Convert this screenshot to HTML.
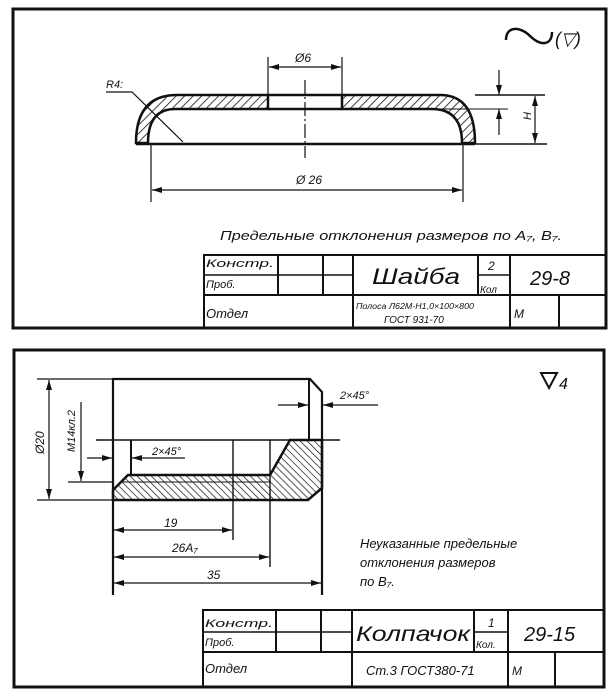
<!DOCTYPE html>
<html><head><meta charset="utf-8">
<style>
html,body{margin:0;padding:0;background:#fff;}
svg{display:block;}
text{font-family:"Liberation Sans",sans-serif;font-style:italic;fill:#111;}
</style></head>
<body>
<svg width="614" height="696" viewBox="0 0 614 696" xmlns="http://www.w3.org/2000/svg">
<defs>
<pattern id="h1" patternUnits="userSpaceOnUse" width="6" height="6" patternTransform="rotate(45)">
<line x1="0" y1="0" x2="0" y2="6" stroke="#111" stroke-width="1.6"/></pattern>
<pattern id="h2" patternUnits="userSpaceOnUse" width="5" height="5" patternTransform="rotate(-45)">
<line x1="0" y1="0" x2="0" y2="5" stroke="#111" stroke-width="1.4"/></pattern>
<marker id="a" viewBox="0 0 10 6" refX="10" refY="3" markerWidth="10" markerHeight="6" orient="auto-start-reverse" markerUnits="userSpaceOnUse">
<path d="M0,0 L10,3 L0,6 z" fill="#111"/></marker>
</defs>
<g stroke="#111" fill="none">
<!-- TOP PANEL -->
<rect x="13" y="9" width="593" height="319" stroke-width="3"/>
<!-- washer -->
<path d="M136,143 Q136,95 177,95 L268,95 L268,109 L175,109 Q148,109 148,143 Z" fill="url(#h1)" stroke-width="2.5"/>
<path d="M475,143 Q475,95 440,95 L342,95 L342,109 L432,109 Q462,109 462,143 Z" fill="url(#h1)" stroke-width="2.5"/>
<line x1="268" y1="95" x2="342" y2="95" stroke-width="2.5"/>
<line x1="268" y1="109" x2="342" y2="109" stroke-width="2.5"/>
<line x1="136" y1="144" x2="475" y2="144" stroke-width="2.5"/>
<line x1="475" y1="95" x2="545" y2="95" stroke-width="1.5"/>
<line x1="475" y1="144" x2="547" y2="144" stroke-width="1.5"/>
<line x1="432" y1="109" x2="508" y2="109" stroke-width="1"/>
<line x1="305" y1="80" x2="305" y2="158" stroke-width="1.2" stroke-dasharray="14,3,2,3"/>
<!-- Ø6 -->
<line x1="268" y1="57" x2="268" y2="95" stroke-width="1.2"/>
<line x1="342" y1="57" x2="342" y2="95" stroke-width="1.2"/>
<line x1="269" y1="67" x2="341" y2="67" stroke-width="1.2" marker-start="url(#a)" marker-end="url(#a)"/>
<!-- Ø26 -->
<line x1="151" y1="144" x2="151" y2="202" stroke-width="1.2"/>
<line x1="463" y1="144" x2="463" y2="202" stroke-width="1.2"/>
<line x1="152" y1="190" x2="462" y2="190" stroke-width="1.2" marker-start="url(#a)" marker-end="url(#a)"/>
<!-- H -->
<line x1="535" y1="96" x2="535" y2="143" stroke-width="1.2" marker-start="url(#a)" marker-end="url(#a)"/>
<!-- s -->
<line x1="499" y1="70" x2="499" y2="95" stroke-width="1.2" marker-end="url(#a)"/>
<line x1="499" y1="135" x2="499" y2="109" stroke-width="1.2" marker-end="url(#a)"/>
<!-- R4 leader -->
<polyline points="106,92 132,92 183,142" stroke-width="1.2"/>
<!-- roughness -->
<path d="M506,40 C506,26 520,26 530,36 C540,46 552,46 552,32" stroke-width="2.5"/>
<!-- title block top -->
<g stroke-width="2">
<rect x="204" y="255" width="402" height="73"/>
<line x1="204" y1="295" x2="606" y2="295"/>
<line x1="204" y1="275" x2="352" y2="275" stroke-width="1.5"/>
<line x1="278" y1="255" x2="278" y2="295"/>
<line x1="323" y1="255" x2="323" y2="295"/>
<line x1="353" y1="255" x2="353" y2="328"/>
<line x1="478" y1="255" x2="478" y2="295"/>
<line x1="478" y1="275" x2="510" y2="275" stroke-width="1.5"/>
<line x1="510" y1="255" x2="510" y2="328"/>
<line x1="559" y1="295" x2="559" y2="328"/>
</g>

<!-- BOTTOM PANEL -->
<rect x="14" y="350" width="590" height="337" stroke-width="3"/>
<path d="M113,500 L113,490 L128,475 L270,475 L290,440 L322,440 L322,488 L308,500 Z" fill="url(#h2)" stroke-width="2.5"/>
<line x1="120" y1="482" x2="270" y2="482" stroke-width="1"/>
<polyline points="113,595 113,379 310,379 322,392 322,595" stroke-width="2.2"/>
<line x1="309" y1="379" x2="309" y2="440" stroke-width="2"/>
<line x1="96" y1="440" x2="340" y2="440" stroke-width="1.4"/>
<line x1="131" y1="440" x2="131" y2="475" stroke-width="2"/>
<line x1="233" y1="440" x2="233" y2="540" stroke-width="1.4"/>
<line x1="270" y1="440" x2="270" y2="567" stroke-width="1.4"/>
<!-- Ø20 -->
<line x1="37" y1="379" x2="113" y2="379" stroke-width="1.2"/>
<line x1="37" y1="500" x2="113" y2="500" stroke-width="1.2"/>
<line x1="49" y1="380" x2="49" y2="499" stroke-width="1.2" marker-start="url(#a)" marker-end="url(#a)"/>
<!-- M14 -->
<line x1="68" y1="482" x2="113" y2="482" stroke-width="1.2"/>
<line x1="81" y1="402" x2="81" y2="481" stroke-width="1.2" marker-end="url(#a)"/>
<!-- 2x45 inner -->
<line x1="87" y1="458" x2="112" y2="458" stroke-width="1.2" marker-end="url(#a)"/>
<line x1="185" y1="458" x2="132" y2="458" stroke-width="1.2" marker-end="url(#a)"/>
<!-- 2x45 top -->
<line x1="278" y1="405" x2="308" y2="405" stroke-width="1.2" marker-end="url(#a)"/>
<line x1="378" y1="405" x2="323" y2="405" stroke-width="1.2" marker-end="url(#a)"/>
<!-- dims -->
<line x1="114" y1="530" x2="232" y2="530" stroke-width="1.2" marker-start="url(#a)" marker-end="url(#a)"/>
<line x1="114" y1="557" x2="269" y2="557" stroke-width="1.2" marker-start="url(#a)" marker-end="url(#a)"/>
<line x1="114" y1="583" x2="321" y2="583" stroke-width="1.2" marker-start="url(#a)" marker-end="url(#a)"/>
<!-- ▽4 -->
<path d="M541,373 L557,373 L549,388 Z" stroke-width="2"/>
<!-- title block bottom -->
<g stroke-width="2">
<rect x="203" y="610" width="401" height="77"/>
<line x1="203" y1="652" x2="604" y2="652"/>
<line x1="203" y1="632" x2="352" y2="632" stroke-width="1.5"/>
<line x1="276" y1="610" x2="276" y2="652"/>
<line x1="321" y1="610" x2="321" y2="652"/>
<line x1="352" y1="610" x2="352" y2="687"/>
<line x1="474" y1="610" x2="474" y2="652"/>
<line x1="474" y1="632" x2="508" y2="632" stroke-width="1.5"/>
<line x1="508" y1="610" x2="508" y2="687"/>
<line x1="555" y1="652" x2="555" y2="687"/>
</g>
</g>

<!-- TEXT top -->
<text x="555" y="45" font-size="18" font-style="normal">(▽)</text>
<text x="295" y="62" font-size="12">Ø6</text>
<text x="106" y="88" font-size="11">R4:</text>
<text x="296" y="184" font-size="12">Ø 26</text>
<text x="527" y="124" font-size="11" transform="rotate(-90 527 120)">H</text>
<text x="220" y="240" font-size="13" textLength="342" lengthAdjust="spacingAndGlyphs">Предельные отклонения размеров по A₇, B₇.</text>
<text x="206" y="267" font-size="11" textLength="68" lengthAdjust="spacingAndGlyphs">Констр.</text>
<text x="206" y="288" font-size="11">Проб.</text>
<text x="206" y="318" font-size="13">Отдел</text>
<text x="372" y="284" font-size="22" textLength="88" lengthAdjust="spacingAndGlyphs">Шайба</text>
<text x="488" y="270" font-size="12">2</text>
<text x="480" y="293" font-size="10">Кол</text>
<text x="530" y="285" font-size="20">29-8</text>
<text x="356" y="309" font-size="8" textLength="118" lengthAdjust="spacingAndGlyphs">Полоса Л62М-Н1,0×100×800</text>
<text x="384" y="323" font-size="10">ГОСТ 931-70</text>
<text x="514" y="318" font-size="12">М</text>

<!-- TEXT bottom -->
<text x="559" y="389" font-size="16" font-style="normal">4</text>
<text x="340" y="399" font-size="11">2×45°</text>
<text x="152" y="455" font-size="11">2×45°</text>
<text x="44" y="454" font-size="12" transform="rotate(-90 44 454)">Ø20</text>
<text x="75" y="452" font-size="11" transform="rotate(-90 75 452)">M14кл.2</text>
<text x="164" y="527" font-size="12">19</text>
<text x="172" y="552" font-size="12">26A₇</text>
<text x="207" y="579" font-size="12">35</text>
<text x="360" y="548" font-size="13">Неуказанные предельные</text>
<text x="360" y="567" font-size="13">отклонения размеров</text>
<text x="360" y="586" font-size="13">по B₇.</text>
<text x="205" y="627" font-size="11" textLength="68" lengthAdjust="spacingAndGlyphs">Констр.</text>
<text x="205" y="646" font-size="11">Проб.</text>
<text x="205" y="673" font-size="13">Отдел</text>
<text x="356" y="641" font-size="21" textLength="114" lengthAdjust="spacingAndGlyphs">Колпачок</text>
<text x="488" y="627" font-size="12">1</text>
<text x="476" y="648" font-size="10">Кол.</text>
<text x="524" y="641" font-size="20">29-15</text>
<text x="366" y="675" font-size="13">Ст.3 ГОСТ380-71</text>
<text x="512" y="675" font-size="12">М</text>
</svg>
</body></html>
